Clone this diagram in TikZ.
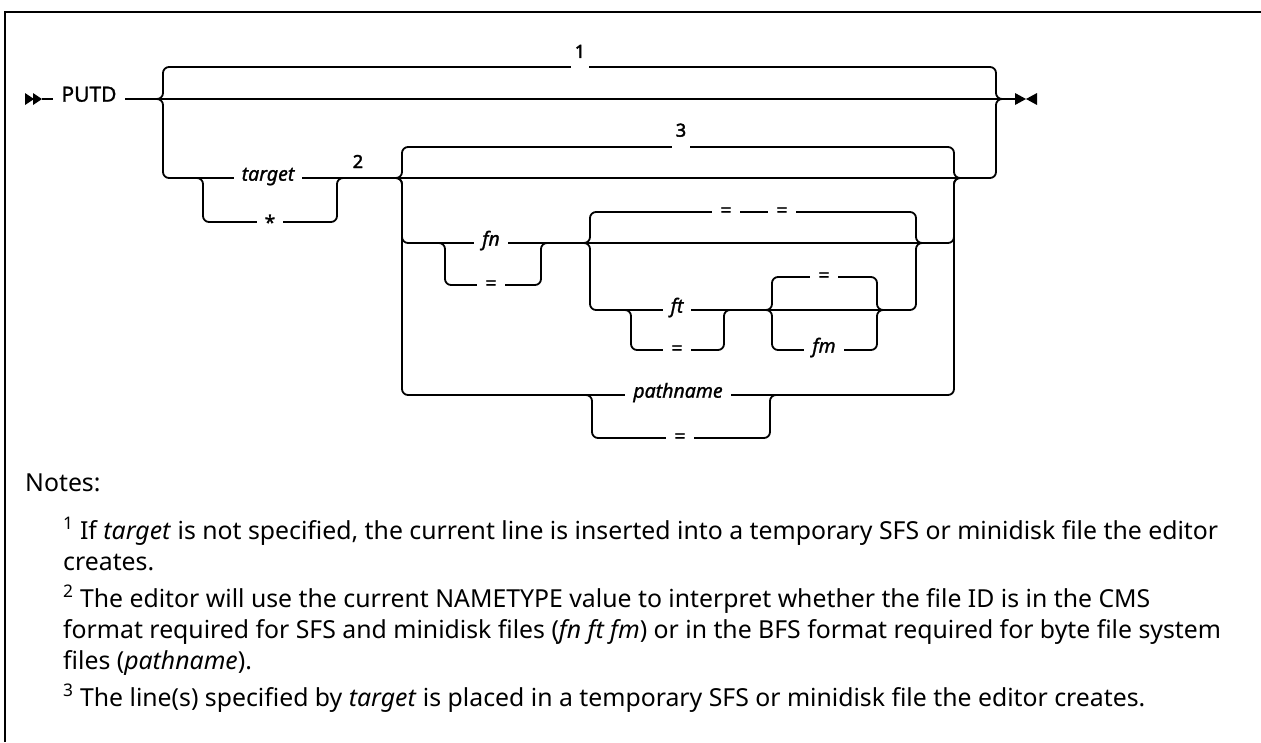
\documentclass[tikz,border=0pt]{standalone}
\usepackage{fontspec}
\setmainfont{Noto Sans}
\newfontfamily\railfont[FakeBold=1.2]{Noto Sans}
\newfontfamily\railnum[FakeBold=2.5]{Noto Sans}
\usetikzlibrary{positioning}
\tikzset{
rail/.style={line width=1.8pt,rounded corners=6pt},
lbl/.style={fill=white,inner xsep=8pt,inner ysep=1pt,anchor=mid,font=\fontsize{19.5}{24}\railfont},
sym/.style={lbl,anchor=center},
num/.style={fill=white,inner xsep=4pt,inner ysep=12pt,anchor=south,font=\fontsize{18}{24}\railnum},
note/.style={anchor=base west,align=left,inner sep=0pt,font=\fontsize{24.8}{31}\selectfont}
}
\begin{document}
\begin{tikzpicture}[x=1pt,y=-1pt]
\useasboundingbox (0,0) rectangle (1261,742);
\draw[line width=2pt](5,742)--(5,12)--(1261,12);
\fill(25,93)--(34,99)--(25,105)--cycle;\fill(33,93)--(42,99)--(33,105)--cycle;
\fill(1015,93)--(1026,99)--(1015,105)--cycle;\fill(1037,93)--(1026,99)--(1037,105)--cycle;
\draw[rail](42,99)--(1015,99);
\draw[rail](157,99)--(163,99)--(163,67)--(996,67)--(996,99)--(1002,99);
\draw[rail](157,99)--(163,99)--(163,178)--(996,178)--(996,99)--(1002,99);
\draw[rail](197,178)--(203,178)--(203,222)--(337,222)--(337,178)--(343,178);
\draw[rail](396,178)--(402,178)--(402,147)--(954,147)--(954,178)--(960,178);
\draw[rail](396,178)--(402,178)--(402,243)--(954,243)--(954,178)--(960,178);
\draw[rail](396,178)--(402,178)--(402,395)--(954,395)--(954,178)--(960,178);
\draw[rail](439,243)--(445,243)--(445,285)--(541,285)--(541,243)--(547,243);
\draw[rail](584,243)--(590,243)--(590,212)--(916,212)--(916,243)--(922,243);
\draw[rail](584,243)--(590,243)--(590,310)--(916,310)--(916,243)--(922,243);
\draw[rail](625,310)--(631,310)--(631,350)--(724,350)--(724,310)--(730,310);
\draw[rail](766,310)--(772,310)--(772,277)--(877,277)--(877,310)--(883,310);
\draw[rail](766,310)--(772,310)--(772,350)--(877,350)--(877,310)--(883,310);
\draw[rail](586,395)--(592,395)--(592,438)--(770,438)--(770,395)--(776,395);
\node[lbl,inner xsep=8pt,font=\fontsize{21}{24}\railfont](putd)at(89,99){PUTD};
\node[num](n1)at(580,70){1};
\node[lbl](target)at(268,178){\itshape target};
\node[sym](star)at(270,222){*};
\node[num,fill=none,anchor=base](n2)at(358,168){2};
\node[num](n3)at(681,149){3};
\node[lbl](fn)at(491,243){\itshape fn};
\node[sym](fneq)at(491,285){=};
\node[sym](fteq1)at(726,212){=};
\node[sym](fteq2)at(782,212){=};
\node[lbl](ft)at(677,310){\itshape ft};
\node[sym](ftalt)at(677,350){=};
\node[sym](fmeq)at(824,277){=};
\node[lbl](fm)at(824,350){\itshape fm};
\node[lbl](path)at(678,395){\itshape pathname};
\node[sym](patheq)at(680,438){=};
\node[note](notes)at(25,491){Notes:};
\node[note](note1)at(63,570){\textsuperscript{1} If \textit{target} is not specified, the current line is inserted into a temporary SFS or minidisk file the editor\\creates.};
\node[note](note2)at(63,669){\textsuperscript{2} The editor will use the current NAMETYPE value to interpret whether the file ID is in the CMS\\format required for SFS and minidisk files (\textit{fn ft fm}) or in the BFS format required for byte file system\\files (\textit{pathname}).};
\node[note](note3)at(63,706){\textsuperscript{3} The line(s) specified by \textit{target} is placed in a temporary SFS or minidisk file the editor creates.};
\end{tikzpicture}
\end{document}
